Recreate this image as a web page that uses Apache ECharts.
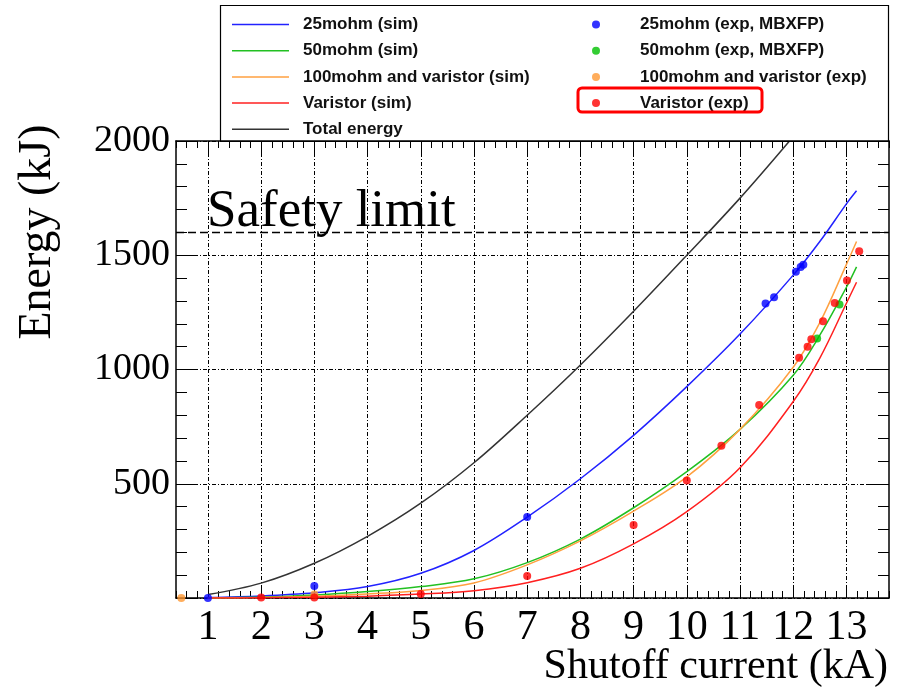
<!DOCTYPE html>
<html>
<head>
<meta charset="utf-8">
<script src="https://cdn.jsdelivr.net/npm/echarts@6/dist/echarts.min.js"></script>
<style>
  html, body { margin: 0; padding: 0; background: #fff; }
  #main { width: 901px; height: 690px; }
</style>
</head>
<body>
<div id="main"></div>
<script>
// simulated curves
const simX = [1, 2, 3, 4, 5, 6, 7, 8, 9, 10, 11, 12, 12.5, 13, 13.19];
const sim25 = [2, 9, 23, 50, 108, 208, 354, 522, 712, 925, 1155, 1413, 1560, 1725, 1782];
const sim50 = [0, 4, 13, 28, 50, 84, 155, 258, 395, 553, 738, 975, 1150, 1360, 1449];
const sim100 = [0, 2, 8, 18, 33, 66, 145, 250, 380, 530, 738, 1010, 1205, 1460, 1560];
const simVar = [0, 1, 3, 8, 17, 32, 67, 130, 237, 378, 570, 860, 1050, 1290, 1382];
const totX = [1, 2, 3, 4, 5, 6, 7, 8, 9, 10, 11, 11.93];
const simTot = [15, 65, 152, 270, 415, 592, 800, 1020, 1255, 1500, 1750, 2000];

// measurements
const exp25X = [1, 3, 7, 11.48, 11.64, 12.05, 12.14, 12.19];
const exp25Y = [0, 52, 354, 1289, 1316, 1428, 1449, 1458];
const exp50X = [12.45, 12.87];
const exp50Y = [1136, 1285];
const exp100X = [0.5, 3];
const exp100Y = [0, 15];
const expVarX = [2, 3, 5, 7, 9, 10, 10.65, 11.36, 12.11, 12.27, 12.34, 12.56, 12.78, 13.01, 13.24];
const expVarY = [2, 2, 18, 96, 320, 514, 666, 845, 1051, 1100, 1132, 1211, 1291, 1389, 1518];

// axis ticks
const xMajor = [1, 2, 3, 4, 5, 6, 7, 8, 9, 10, 11, 12, 13];
const safetyLimit = 1600;

const pairs = (xs, ys) => xs.map((x, i) => [x, ys[i]]);

const serif = 'Liberation Serif';
const sans = 'Liberation Sans';
const gridDash = [4, 2, 1, 2];

const chart = echarts.init(document.getElementById('main'), null, { renderer: 'canvas' });

function simLine(name, xs, ys, color) {
  return {
    name: name,
    type: 'line',
    data: pairs(xs, ys),
    color: color,
    showSymbol: false,
    symbol: 'none',
    smooth: 0.35,
    lineStyle: { width: 1.5, color: color },
    z: 3,
    silent: true
  };
}

function expDots(name, xs, ys, color) {
  return {
    name: name,
    type: 'scatter',
    data: pairs(xs, ys),
    color: color,
    symbolSize: 8,
    itemStyle: { color: color },
    z: 4,
    silent: true
  };
}

const xBase = { type: 'value', min: 0.4, max: 13.8, gridIndex: 0 };

const blackLine = simLine('Total energy', totX, simTot, '#333333');
// grid lines at integer currents and the safety limit
blackLine.markLine = {
  silent: true,
  symbol: 'none',
  z: 1,
  animation: false,
  label: { show: false },
  data: xMajor.map(v => ({ xAxis: v, lineStyle: { type: gridDash, color: '#000', width: 1 } }))
    .concat([{ yAxis: safetyLimit, lineStyle: { type: [8, 4], color: '#000', width: 1.3 } }])
};

const legendText = { fontFamily: sans, fontWeight: 'bold', fontSize: 17, color: '#111' };

const option = {
  animation: false,
  backgroundColor: '#fff',
  grid: { left: 176, right: 12, top: 141, bottom: 92, outerBoundsMode: 'none' },
  xAxis: [
    Object.assign({}, xBase, {
      position: 'bottom', interval: 0.2,
      axisLine: { show: true, lineStyle: { color: '#000', width: 1.5 } },
      axisTick: { show: true, inside: true, length: 7, lineStyle: { color: '#000' } },
      axisLabel: { show: false },
      splitLine: { show: false }
    }),
    Object.assign({}, xBase, {
      position: 'bottom',
      axisLine: { show: false },
      axisTick: { show: true, inside: true, length: 13, customValues: xMajor, lineStyle: { color: '#000' } },
      axisLabel: { show: true, customValues: xMajor, margin: 9, color: '#000', fontFamily: serif, fontSize: 42 },
      splitLine: { show: false }
    }),
    Object.assign({}, xBase, {
      position: 'top', interval: 0.2,
      axisLine: { show: true, lineStyle: { color: '#000', width: 1.5 } },
      axisTick: { show: true, inside: true, length: 7, lineStyle: { color: '#000' } },
      axisLabel: { show: false },
      splitLine: { show: false }
    }),
    Object.assign({}, xBase, {
      position: 'top',
      axisLine: { show: false },
      axisTick: { show: true, inside: true, length: 13, customValues: xMajor, lineStyle: { color: '#000' } },
      axisLabel: { show: false },
      splitLine: { show: false }
    })
  ],
  yAxis: [
    {
      type: 'value', min: 0, max: 2000, interval: 500, position: 'left',
      axisLine: { show: true, lineStyle: { color: '#000', width: 1.5 } },
      axisTick: { show: true, inside: true, length: 22, lineStyle: { color: '#000' } },
      minorTick: { show: true, splitNumber: 5, length: 11, lineStyle: { color: '#000' } },
      axisLabel: {
        showMinLabel: false, margin: 6, color: '#000', fontFamily: serif, fontSize: 38,
        formatter: v => String(v)
      },
      splitLine: { show: true, lineStyle: { type: gridDash, color: '#000', width: 1 } }
    },
    {
      type: 'value', min: 0, max: 2000, interval: 500, position: 'right',
      axisLine: { show: true, lineStyle: { color: '#000', width: 1.5 } },
      axisTick: { show: true, inside: true, length: 22, lineStyle: { color: '#000' } },
      minorTick: { show: true, splitNumber: 5, length: 11, lineStyle: { color: '#000' } },
      axisLabel: { show: false },
      splitLine: { show: false }
    }
  ],
  legend: [
    {
      orient: 'vertical', left: 227, top: 11, itemGap: 9.2,
      itemWidth: 57, itemHeight: 1.5, icon: 'rect', selectedMode: false,
      textStyle: Object.assign({ padding: [0, 0, 0, 9] }, legendText),
      data: ['25mohm (sim)', '50mohm (sim)', '100mohm and varistor (sim)', 'Varistor (sim)', 'Total energy']
    },
    {
      orient: 'vertical', left: 587, top: 11, itemGap: 9.2,
      itemWidth: 8, itemHeight: 8, icon: 'circle', selectedMode: false,
      textStyle: Object.assign({ padding: [0, 0, 0, 35] }, legendText),
      data: ['25mohm (exp, MBXFP)', '50mohm (exp, MBXFP)', '100mohm and varistor (exp)', 'Varistor (exp)']
    }
  ],
  graphic: [
    { type: 'rect', shape: { x: 220.5, y: 5.5, width: 668, height: 136 }, style: { fill: 'none', stroke: '#000', lineWidth: 1.2 }, z: 10 },
    { type: 'rect', shape: { x: 578, y: 88, width: 184, height: 24, r: 4 }, style: { fill: 'none', stroke: '#ff0000', lineWidth: 3 }, z: 10 },
    { type: 'text', x: 207, y: 239, style: { text: 'Safety limit', font: '53px "Liberation Serif"', fill: '#000', textAlign: 'left', textVerticalAlign: 'bottom' }, z: 10 },
    { type: 'text', x: 888, y: 688, style: { text: 'Shutoff current (kA)', font: '42px "Liberation Serif"', fill: '#000', textAlign: 'right', textVerticalAlign: 'bottom' }, z: 10 },
    { type: 'text', x: 38, y: 232, rotation: Math.PI / 2, style: { text: 'Energy (kJ)', font: '46px "Liberation Serif"', fill: '#000', textAlign: 'center', textVerticalAlign: 'middle' }, z: 10 }
  ],
  series: [
    simLine('25mohm (sim)', simX, sim25, '#2222ff'),
    simLine('50mohm (sim)', simX, sim50, '#22c022'),
    simLine('100mohm and varistor (sim)', simX, sim100, '#ffa040'),
    simLine('Varistor (sim)', simX, simVar, '#ff2020'),
    blackLine,
    expDots('25mohm (exp, MBXFP)', exp25X, exp25Y, '#0000ff'),
    expDots('50mohm (exp, MBXFP)', exp50X, exp50Y, '#00c000'),
    expDots('100mohm and varistor (exp)', exp100X, exp100Y, '#ff9933'),
    expDots('Varistor (exp)', expVarX, expVarY, '#ff0000')
  ]
};

chart.setOption(option);
</script>
</body>
</html>
